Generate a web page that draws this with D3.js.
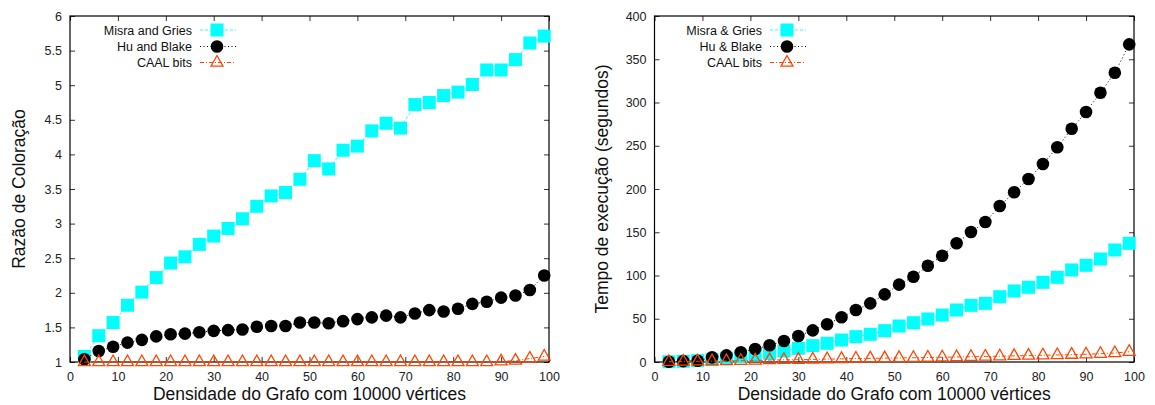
<!DOCTYPE html>
<html>
<head>
<meta charset="utf-8">
<script src="https://cdn.jsdelivr.net/npm/d3@7/dist/d3.min.js"></script>
<style>
  body { margin: 0; background: #fff; }
  svg  { display: block; font-family: "Liberation Sans", Arial, Helvetica, sans-serif; }
</style>
</head>
<body>
<svg id="chart" width="1155" height="405"></svg>
<script>
'use strict';

// ─── Data ─────────────────────────────────────────────────────────────────────
const density = [3, 6, 9, 12, 15, 18, 21, 24, 27, 30, 33, 36, 39, 42, 45, 48, 51,
                 54, 57, 60, 63, 66, 69, 72, 75, 78, 81, 84, 87, 90, 93, 96, 99];

// left panel: colouring ratio
const misraRatio = [1.08, 1.38, 1.57, 1.82, 2.01, 2.22, 2.43, 2.52, 2.70, 2.82, 2.93,
                    3.07, 3.25, 3.40, 3.45, 3.64, 3.91, 3.79, 4.06, 4.12, 4.34, 4.45,
                    4.38, 4.72, 4.75, 4.85, 4.90, 5.01, 5.22, 5.22, 5.37, 5.61, 5.71];
const huRatio    = [1.04, 1.16, 1.22, 1.28, 1.32, 1.37, 1.40, 1.41, 1.43, 1.45, 1.46,
                    1.47, 1.51, 1.52, 1.52, 1.57, 1.57, 1.56, 1.59, 1.62, 1.645, 1.67,
                    1.645, 1.70, 1.75, 1.73, 1.77, 1.84, 1.87, 1.93, 1.96, 2.04, 2.25];
const caalRatio  = [1, 1, 1, 1, 1, 1, 1, 1, 1, 1, 1,
                    1, 1, 1, 1, 1, 1, 1, 1, 1, 1, 1,
                    1, 1, 1, 1, 1, 1, 1, 1.01, 1.02, 1.05, 1.08];

// right panel: run time (seconds)
const misraTime = [0.3, 0.8, 1.6, 2.8, 4.3, 6.2, 8.1, 10, 12.7, 15.8, 18.9,
                   21.6, 25.4, 29.3, 32, 36.2, 41.6, 45.4, 49.7, 54.3, 60.1, 65.5,
                   67.8, 75.5, 82.1, 86.4, 92.1, 97.9, 106.4, 111.8, 119.1, 129.5, 137.2];
const huTime    = [0.3, 1, 1.5, 5.4, 7.7, 11.2, 15, 19.3, 24.3, 30, 36.6,
                   43.6, 51.7, 60.1, 67.8, 78.2, 89.4, 98.6, 111.3, 122.9, 137.2, 150.3,
                   161.8, 180.3, 196.2, 211.6, 228.9, 248.2, 269.7, 289, 311.3, 334.4, 367.2];
const caalTime  = [0.3, 0.5, 0.8, 1.0, 1.2, 1.5, 1.8, 2.2, 2.5, 2.7, 3.0,
                   3.3, 3.6, 4.0, 4.2, 4.5, 4.7, 4.9, 5.2, 5.5, 5.8, 6.1,
                   6.4, 6.7, 7.1, 7.4, 7.8, 8.1, 8.5, 9.0, 9.6, 10.4, 11.8];

const ratioLabels = ['Misra and Gries', 'Hu and Blake', 'CAAL bits'];
const timeLabels  = ['Misra & Gries', 'Hu & Blake', 'CAAL bits'];

const xTicks      = [0, 10, 20, 30, 40, 50, 60, 70, 80, 90, 100];
const ratioTicks  = [1, 1.5, 2, 2.5, 3, 3.5, 4, 4.5, 5, 5.5, 6];
const timeTicks   = [0, 50, 100, 150, 200, 250, 300, 350, 400];

const xTitle      = 'Densidade do Grafo com 10000 vértices';

// ─── Styles ───────────────────────────────────────────────────────────────────
const CYAN   = '#00ffff';
const ORANGE = '#ff4500';
const seriesStyle = [
  { marker: 'square',   color: CYAN,   dash: '3,2',     lineColor: '#33ffff' },
  { marker: 'circle',   color: '#000', dash: '1,2.5',   lineColor: '#000' },
  { marker: 'triangle', color: ORANGE, dash: '4,2,1,2', lineColor: ORANGE },
];

const svg = d3.select('#chart');

// ─── Draw ─────────────────────────────────────────────────────────────────────
function drawMarker(g, type, color) {
  if (type === 'square') {
    g.append('rect').attr('x', -6.5).attr('y', -6.5).attr('width', 13).attr('height', 13)
      .attr('fill', color);
  } else if (type === 'circle') {
    g.append('circle').attr('r', 6.3).attr('fill', color);
  } else {
    g.append('path').attr('d', 'M0,-7L6,3.6L-6,3.6Z')
      .attr('fill', 'none').attr('stroke', color).attr('stroke-width', 1.3);
  }
}

function drawPanel(p) {
  const x = d3.scaleLinear().domain([0, 100]).range([p.left, p.right]);
  const y = d3.scaleLinear().domain(p.yDomain).range([p.bottom, p.top]);
  const g = svg.append('g');

  // axes with inward ticks, mirrored on top / right
  const tickStyle = sel => {
    sel.select('.domain').remove();
    sel.selectAll('.tick line').attr('stroke', '#333').attr('stroke-width', 1);
    sel.selectAll('.tick text').attr('fill', '#222').attr('font-size', 12.5)
      .attr('font-family', '"Liberation Sans", Arial, sans-serif');
  };
  g.append('g').attr('transform', `translate(0,${p.bottom})`)
    .call(d3.axisBottom(x).tickValues(xTicks).tickSizeInner(-5).tickSizeOuter(0).tickPadding(10))
    .call(tickStyle);
  g.append('g').attr('transform', `translate(0,${p.top})`)
    .call(d3.axisTop(x).tickValues(xTicks).tickSizeInner(-5).tickSizeOuter(0).tickFormat(''))
    .call(tickStyle);
  g.append('g').attr('transform', `translate(${p.left},0)`)
    .call(d3.axisLeft(y).tickValues(p.yTicks).tickSizeInner(-5).tickSizeOuter(0).tickPadding(8)
      .tickFormat(d => String(d)))
    .call(tickStyle);
  g.append('g').attr('transform', `translate(${p.right},0)`)
    .call(d3.axisRight(y).tickValues(p.yTicks).tickSizeInner(-5).tickSizeOuter(0).tickFormat(''))
    .call(tickStyle);

  g.append('rect')
    .attr('x', p.left).attr('y', p.top)
    .attr('width', p.right - p.left).attr('height', p.bottom - p.top)
    .attr('fill', 'none').attr('stroke', '#000').attr('stroke-width', 1.2);

  // series
  const line = d3.line().x(d => x(d[0])).y(d => y(d[1]));
  p.series.forEach((vals, i) => {
    const st = seriesStyle[i];
    const pts = density.map((d, k) => [d, vals[k]]);
    g.append('path').datum(pts).attr('d', line)
      .attr('fill', 'none').attr('stroke', st.lineColor)
      .attr('stroke-width', 1).attr('stroke-dasharray', st.dash);
    const mg = g.append('g');
    pts.forEach(pt => {
      const m = mg.append('g').attr('transform', `translate(${x(pt[0])},${y(pt[1])})`);
      drawMarker(m, st.marker, st.color);
    });

    // key entry
    const ky = p.keyY[i];
    g.append('text').attr('x', p.keyTextX).attr('y', ky + 4.5)
      .attr('text-anchor', 'end').attr('font-size', 12.5).attr('fill', '#111')
      .text(p.labels[i]);
    g.append('line').attr('x1', p.keyTextX + 8).attr('x2', p.keyTextX + 44)
      .attr('y1', ky).attr('y2', ky)
      .attr('stroke', st.lineColor).attr('stroke-width', 1).attr('stroke-dasharray', st.dash);
    drawMarker(g.append('g').attr('transform', `translate(${p.keyTextX + 25},${ky})`),
      st.marker, st.color);
  });

  // titles
  g.append('text')
    .attr('x', (p.left + p.right) / 2).attr('y', 400)
    .attr('text-anchor', 'middle').attr('font-size', 17.5).attr('fill', '#111')
    .text(xTitle);
  g.append('text')
    .attr('transform', `translate(${p.yTitleX},${p.yTitleY}) rotate(-90)`)
    .attr('text-anchor', 'middle').attr('font-size', 17.5).attr('fill', '#111')
    .text(p.yTitle);
}

drawPanel({
  left: 70, right: 549, top: 16, bottom: 362,
  yDomain: [1, 6], yTicks: ratioTicks,
  series: [misraRatio, huRatio, caalRatio],
  labels: ratioLabels, keyTextX: 192, keyY: [30, 46.5, 62.5],
  yTitle: 'Razão de Coloração', yTitleX: 25, yTitleY: 189,
});

drawPanel({
  left: 654.5, right: 1134, top: 16, bottom: 362,
  yDomain: [0, 400], yTicks: timeTicks,
  series: [misraTime, huTime, caalTime],
  labels: timeLabels, keyTextX: 762, keyY: [30, 46.5, 62.5],
  yTitle: 'Tempo de execução (segundos)', yTitleX: 608, yTitleY: 189,
});
</script>
</body>
</html>
